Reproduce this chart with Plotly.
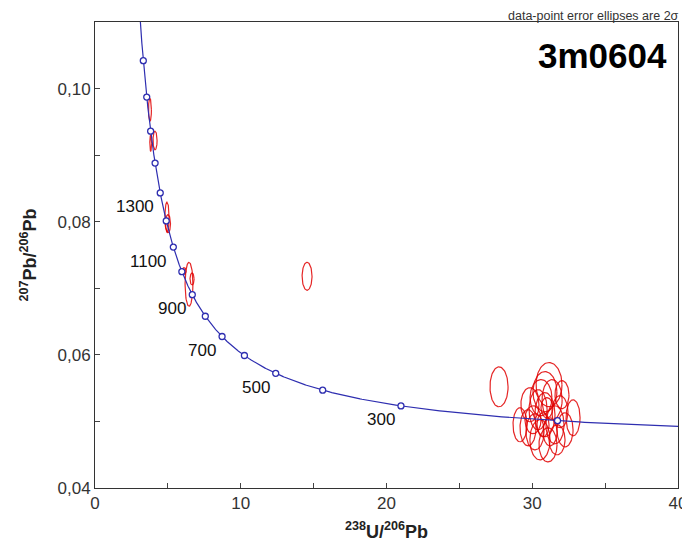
import numpy as np
import plotly.graph_objects as go

# ---------------- data ----------------
# error ellipses (2 sigma): centre x (238U/206Pb), centre y (207Pb/206Pb), semi-axes
ell_x = [3.77, 4.12, 3.82, 4.94, 5.01, 6.45, 6.11, 6.66, 14.55, 27.72,
         31.15, 30.87, 30.60, 31.36, 29.16, 29.71, 32.80, 32.25, 30.53, 31.08,
         30.19, 31.56, 30.87, 30.40, 31.90, 30.05, 31.22, 30.74, 31.01, 31.70,
         29.84, 32.04]
ell_y = [0.0968, 0.0922, 0.0918, 0.0807, 0.0797, 0.0706, 0.0726, 0.0714, 0.0718, 0.0552,
         0.05553, 0.05447, 0.05357, 0.05327, 0.04950, 0.04905, 0.05055, 0.04874, 0.04724, 0.04648,
         0.04844, 0.04950, 0.05101, 0.05176, 0.05146, 0.05025, 0.04844, 0.04950, 0.05206, 0.04724,
         0.05251, 0.05402]
ell_sx = [0.10, 0.14, 0.06, 0.14, 0.17, 0.27, 0.14, 0.14, 0.34, 0.62,
          0.89, 0.82, 0.75, 0.69, 0.48, 0.55, 0.48, 0.55, 0.69, 0.62,
          0.62, 0.62, 0.69, 0.62, 0.55, 0.55, 0.48, 0.41, 0.41, 0.55,
          0.62, 0.48]
ell_sy = [0.0017, 0.0014, 0.0012, 0.00226, 0.00136, 0.0033, 0.0005, 0.0009, 0.0021, 0.0030,
          0.00332, 0.00302, 0.00271, 0.00302, 0.00256, 0.00271, 0.00271, 0.00256, 0.00302, 0.00256,
          0.00271, 0.00286, 0.00332, 0.00302, 0.00241, 0.00211, 0.00211, 0.00181, 0.00151, 0.00226,
          0.00256, 0.00211]

# concordia age marks (Ma) and labelled ages
marker_ages = [200, 300, 400, 500, 600, 700, 800, 900, 1000, 1100, 1200, 1300, 1400, 1500, 1600, 1700]
label_ages = [300, 500, 700, 900, 1100, 1300]

x_ticks = [0, 10, 20, 30, 40]
y_ticks = [0.04, 0.06, 0.08, 0.10]

# ---------------- concordia (Tera-Wasserburg) ----------------
L238 = 1.55125e-10
L235 = 9.8485e-10
U_RATIO = 137.88


def concordia(age_ma):
    t = np.asarray(age_ma, dtype=float) * 1e6
    e238 = np.expm1(L238 * t)
    e235 = np.expm1(L235 * t)
    return 1.0 / e238, e235 / e238 / U_RATIO


curve_ages = np.linspace(120, 1900, 800)
cx, cy = concordia(curve_ages)
mx, my = concordia(marker_ages)
lx, ly = concordia(label_ages)

fig = go.Figure()

# ellipses
theta = np.linspace(0, 2 * np.pi, 90)
for x0, y0, sx, sy in zip(ell_x, ell_y, ell_sx, ell_sy):
    fig.add_trace(go.Scatter(
        x=x0 + sx * np.cos(theta), y=y0 + sy * np.sin(theta),
        mode="lines", line=dict(color="rgba(225,0,0,0.85)", width=1.2),
        hoverinfo="skip", showlegend=False))

# concordia curve
blue = "#2e2eb0"
fig.add_trace(go.Scatter(x=cx, y=cy, mode="lines",
                         line=dict(color=blue, width=1.2),
                         hoverinfo="skip", showlegend=False))
fig.add_trace(go.Scatter(x=mx, y=my, mode="markers",
                         marker=dict(symbol="circle", size=6, color="white",
                                     line=dict(color=blue, width=1.3)),
                         showlegend=False, cliponaxis=True))

# age labels
for a, x, y in zip(label_ages, lx, ly):
    fig.add_annotation(x=x, y=y, text=str(a), showarrow=False,
                       xanchor="right", yanchor="middle", xshift=-4, yshift=-14,
                       font=dict(size=17, color="#111111",
                                 family="Liberation Sans, Arial, sans-serif"))

fig.add_annotation(xref="paper", yref="paper", x=0.985, y=0.929,
                   text="<b>3m0604</b>", showarrow=False,
                   xanchor="right", yanchor="middle",
                   font=dict(size=35, color="black",
                             family="Liberation Sans, Arial, sans-serif"))
fig.add_annotation(xref="paper", yref="paper", x=1.006, y=1.0, yshift=-3,
                   text="data-point error ellipses are 2σ", showarrow=False,
                   xanchor="right", yanchor="bottom",
                   font=dict(size=12.5, color="#333333",
                             family="Liberation Sans, Arial, sans-serif"))

axis_font = dict(size=17, color="#333333", family="Liberation Sans, Arial, sans-serif")
fig.update_layout(
    width=682, height=534,
    margin=dict(l=87, r=12, t=14, b=54),
    paper_bgcolor="white", plot_bgcolor="white",
    separators=",.",
    xaxis=dict(range=[0, 40], tickvals=x_ticks, ticks="inside", ticklen=5,
               tickcolor="#444", showgrid=False, zeroline=False, automargin=False,
               ticklabeloverflow="allow",
               showline=True, linecolor="#333", linewidth=1, mirror=True,
               minor=dict(dtick=5, ticks="inside", ticklen=5, tickcolor="#444", showgrid=False),
               tickfont=axis_font,
               title=dict(text="<b><sup>238</sup>U/<sup>206</sup>Pb</b>",
                          font=dict(size=18, color="#222",
                                    family="Liberation Sans, Arial, sans-serif"),
                          standoff=18)),
    yaxis=dict(range=[0.04, 0.11], tickvals=y_ticks, tickformat=".2f",
               ticks="inside", ticklen=5, tickcolor="#444",
               showgrid=False, zeroline=False, automargin=False,
               ticklabeloverflow="allow",
               showline=True, linecolor="#333", linewidth=1, mirror=True,
               minor=dict(dtick=0.01, ticks="inside", ticklen=5, tickcolor="#444", showgrid=False),
               tickfont=axis_font,
               title=dict(text="<b><sup>207</sup>Pb/<sup>206</sup>Pb</b>",
                          font=dict(size=18, color="#222",
                                    family="Liberation Sans, Arial, sans-serif"),
                          standoff=16)),
)

fig.write_html("out.html")
